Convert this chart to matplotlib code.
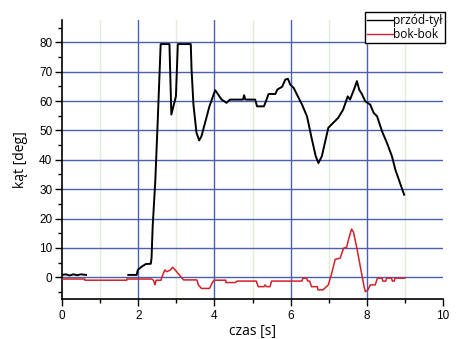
import numpy as np
import matplotlib
matplotlib.use("Agg")
import matplotlib.pyplot as plt

nan = np.nan

# przód-tył (front-back) series
front_x = [0, 0.1, 0.2, 0.3, 0.4, 0.5, 0.63, nan,
           1.74, 1.96, 1.99, 2.09, 2.2, 2.33, 2.35, 2.38, 2.45, 2.51, 2.59, 2.82,
           2.87, 2.99, 3.04, 3.38, 3.40, 3.45, 3.53, 3.60, 3.66, 3.87, 4.02, 4.10,
           4.19, 4.32, 4.41, 4.75, 4.78, 4.81, 5.07, 5.12, 5.30, 5.37, 5.42, 5.60,
           5.65, 5.78, 5.86, 5.93, 5.99, 6.08, 6.21, 6.30, 6.43, 6.56, 6.66, 6.73,
           6.82, 6.99, 7.12, 7.25, 7.38, 7.50, 7.56, 7.68, 7.74, 7.80, 7.87, 7.96,
           8.09, 8.18, 8.27, 8.40, 8.53, 8.66, 8.75, 8.98]
front_y = [0.8, 1.0, 0.6, 1.0, 0.7, 1.0, 0.8, nan,
           0.8, 0.8, 2.5, 3.6, 4.5, 4.6, 6.5, 17.3, 33.2, 52.5, 79.4, 79.4,
           55.4, 61.6, 79.4, 79.4, 70.8, 58.8, 49.2, 46.6, 48.0, 58.2, 63.7, 62.2,
           60.5, 59.4, 60.5, 60.5, 62.0, 60.5, 60.5, 58.2, 58.2, 60.5, 62.4, 62.4,
           63.9, 64.9, 67.3, 67.6, 65.6, 64.5, 61.1, 58.8, 54.8, 46.9, 41.2, 38.9,
           41.2, 50.9, 52.6, 54.3, 57.1, 61.6, 60.5, 64.5, 66.8, 63.9, 62.4, 59.9,
           58.8, 56.0, 54.8, 49.7, 45.7, 41.2, 36.6, 28.1]

# bok-bok (side-side) series
side_x = [0, 0.6, 0.6, 1.7, 1.7, 2.35, 2.4, 2.44, 2.47, 2.6, 2.62, 2.7, 2.75,
          2.85, 2.9, 2.97, 3.06, 3.13, 3.19, 3.54, 3.58, 3.66, 3.87, 3.94, 3.99,
          4.3, 4.3, 4.55, 4.6, 5.1, 5.15, 5.3, 5.33, 5.37, 5.46, 5.5, 6.3, 6.32,
          6.42, 6.45, 6.5, 6.55, 6.7, 6.72, 6.85, 6.99, 7.08, 7.17, 7.30, 7.39,
          7.47, 7.53, 7.60, 7.65, 7.74, 7.83, 7.92, 7.96, 8.03, 8.09, 8.22, 8.28,
          8.4, 8.42, 8.5, 8.52, 8.65, 8.67, 8.72, 8.74, 9.0]
side_y = [-0.6, -0.6, -1.0, -1.0, -0.6, -0.6, -1.0, -2.6, -1.0, -1.0, 0.0, 2.5, 1.9,
          2.5, 3.4, 2.5, 1.1, 0.0, -0.9, -0.9, -2.6, -3.8, -3.8, -2.0, -1.0,
          -1.0, -1.8, -1.8, -1.3, -1.3, -3.2, -3.2, -2.6, -3.2, -3.2, -1.3, -1.3, -0.3,
          -0.3, -1.3, -1.3, -3.2, -3.2, -4.3, -4.3, -2.6, 1.4, 6.1, 6.5, 9.9,
          10.2, 13.3, 16.4, 15.4, 9.9, 3.6, -2.6, -4.9, -4.3, -2.6, -2.6, -0.3,
          -0.3, -1.3, -1.3, -0.3, -0.3, -1.3, -1.3, -0.3, -0.3]

x_ticks = [0, 2, 4, 6, 8, 10]
y_ticks = [0, 10, 20, 30, 40, 50, 60, 70, 80]

plt.rcParams['font.family'] = ['Liberation Sans', 'DejaVu Sans']

fig = plt.figure(figsize=(4.62, 3.39), dpi=100)
ax = fig.add_axes([62/462, 1-299/339, (443-62)/462, (299-20)/339])

ax.set_xlim(0, 10)
ax.set_ylim(-7.4, 87.6)

# grid lines
for xv in [1, 3, 5, 7, 9]:
    ax.axvline(xv, color='#e2efd6', lw=1.0, zorder=0)
for xv in [2, 4, 6, 8]:
    ax.axvline(xv, color='#4a5fae', lw=1.0, zorder=1)
for yv in y_ticks:
    ax.axhline(yv, color='#4a5fae', lw=1.0, zorder=1)

ax.plot(front_x, front_y, color='black', lw=1.4, label='przód-tył', zorder=3)
ax.plot(side_x, side_y, color='#d0202a', lw=1.1, label='bok-bok', zorder=3)

ax.set_xticks(x_ticks)
ax.set_yticks(y_ticks)
ax.set_xticks([1, 3, 5, 7, 9], minor=True)
ax.set_yticks(np.arange(-5, 86, 5), minor=True)
ax.tick_params(axis='both', which='major', direction='out', length=5, width=1,
               labelsize=8.5, pad=2, colors='black')
ax.tick_params(axis='both', which='minor', direction='out', length=3, width=1)
ax.tick_params(axis='x', which='major', pad=3)

for s in ['top', 'right']:
    ax.spines[s].set_visible(False)
for s in ['left', 'bottom']:
    ax.spines[s].set_linewidth(1.2)

ax.set_xlabel('czas [s]', fontsize=10, family=['Open Sans', 'DejaVu Sans'], labelpad=1)
ax.set_ylabel('kąt [deg]', fontsize=10, family=['Open Sans', 'DejaVu Sans'], labelpad=8)

leg = ax.legend(loc='upper right', bbox_to_anchor=(1.004, 1.028),
                frameon=True, fancybox=False, edgecolor='black', framealpha=1,
                handlelength=2.2, handletextpad=0.0, borderpad=0.15,
                labelspacing=0.1, borderaxespad=0,
                prop={'family': ['Open Sans', 'DejaVu Sans'], 'size': 8.6})
leg.get_frame().set_linewidth(1.0)
for h in leg.get_lines():
    h.set_linewidth(1.0)

fig.savefig('out.png', dpi=100)
